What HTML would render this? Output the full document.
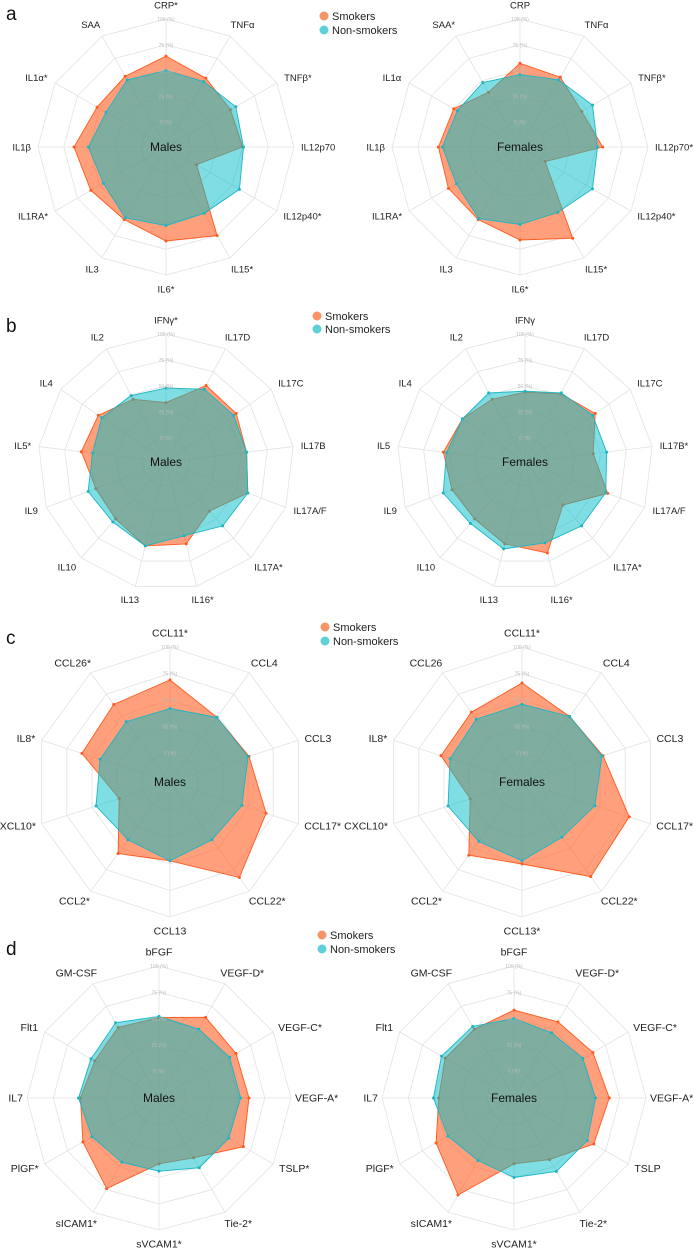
<!DOCTYPE html>
<html><head><meta charset="utf-8"><style>
html,body{margin:0;padding:0;background:#fff}
svg{display:block;font-family:"Liberation Sans",sans-serif}
</style></head><body>
<svg id="fig" width="694" height="1249" viewBox="0 0 694 1249" xmlns="http://www.w3.org/2000/svg">
<text x="6" y="20" font-size="19" fill="#111">a</text>
<text x="6" y="332" font-size="19" fill="#111">b</text>
<text x="6" y="644" font-size="19" fill="#111">c</text>
<text x="6" y="955" font-size="19" fill="#111">d</text>
<g>
<circle cx="324" cy="16" r="4.5" fill="#f79467"/><text x="332" y="20" font-size="11" fill="#222">Smokers</text>
<circle cx="324" cy="30" r="4.5" fill="#5fd0d8"/><text x="332" y="34" font-size="11" fill="#222">Non-smokers</text></g>
<g>
<circle cx="317" cy="316" r="4.5" fill="#f79467"/><text x="325" y="320" font-size="11" fill="#222">Smokers</text>
<circle cx="317" cy="329" r="4.5" fill="#5fd0d8"/><text x="325" y="333" font-size="11" fill="#222">Non-smokers</text></g>
<g>
<circle cx="325" cy="627" r="4.5" fill="#f79467"/><text x="333" y="631" font-size="11" fill="#222">Smokers</text>
<circle cx="325" cy="641" r="4.5" fill="#5fd0d8"/><text x="333" y="645" font-size="11" fill="#222">Non-smokers</text></g>
<g>
<circle cx="322" cy="935" r="4.5" fill="#f79467"/><text x="330" y="939" font-size="11" fill="#222">Smokers</text>
<circle cx="322" cy="949" r="4.5" fill="#5fd0d8"/><text x="330" y="953" font-size="11" fill="#222">Non-smokers</text></g>
</svg>
<script>
const ringTicks = [0, 25, 50, 75, 100];
const ringTickLabels = ["0 (%)", "25 (%)", "50 (%)", "75 (%)", "100 (%)"];

const aMaleLabels = ["CRP*","TNFα","TNFβ*","IL12p70","IL12p40*","IL15*","IL6*","IL3","IL1RA*","IL1β","IL1α*","SAA"];
const aMaleSmokers = [64,53,48,50,10,75,67,57,60,65,53,55];
const aMaleNonSmokers = [50,49,54,51,58,50,52,55,46,51,43,51];
const aFemaleLabels = ["CRP","TNFα","TNFβ*","IL12p70*","IL12p40*","IL15*","IL6*","IL3","IL1RA*","IL1β","IL1α","SAA*"];
const aFemaleSmokers = [57,54,45,56,4,78,66,57,56,55,50,37];
const aFemaleNonSmokers = [46,51,57,51,57,49,51,56,47,51,46,48];

const bMaleLabels = ["IFNγ*","IL17D","IL17C","IL17B","IL17A/F","IL17A*","IL16*","IL13","IL10","IL9","IL5*","IL4","IL2"];
const bMaleSmokers = [34,60,59,55,61,40,58,60,50,49,59,56,45];
const bMaleNonSmokers = [48,56,56,55,61,59,50,60,54,57,48,52,49];
const bFemaleLabels = ["IFNγ","IL17D","IL17C","IL17B*","IL17A/F","IL17A*","IL16*","IL13","IL10","IL9","IL5","IL4","IL2"];
const bFemaleSmokers = [44,51,59,43,62,32,67,58,50,52,56,50,45];
const bFemaleNonSmokers = [45,52,56,56,60,59,57,63,56,61,53,50,52];

const cMaleLabels = ["CCL11*","CCL4","CCL3","CCL17*","CCL22*","CCL13","CCL2*","CXCL10*","IL8*","CCL26*"];
const cMaleSmokers = [69,48,51,68,84,47,56,23,60,63];
const cMaleNonSmokers = [42,48,50,44,40,47,40,46,42,43];
const cFemaleLabels = ["CCL11*","CCL4","CCL3","CCL17*","CCL22*","CCL13*","CCL2*","CXCL10*","IL8*","CCL26"];
const cFemaleSmokers = [66,49,53,79,83,50,58,24,53,54];
const cFemaleNonSmokers = [46,49,52,45,37,47,42,46,44,46];

const dMaleLabels = ["bFGF","VEGF-D*","VEGF-C*","VEGF-A*","TSLP*","Tie-2*","sVCAM1*","sICAM1*","PlGF*","IL7","Flt1","GM-CSF"];
const dMaleSmokers = [51,63,59,60,67,40,37,74,58,49,45,52];
const dMaleNonSmokers = [52,50,52,52,51,51,44,45,48,51,49,57];
const dFemaleLabels = ["bFGF","VEGF-D*","VEGF-C*","VEGF-A*","TSLP","Tie-2*","sVCAM1*","sICAM1*","PlGF*","IL7","Flt1","GM-CSF"];
const dFemaleSmokers = [58,58,61,65,62,42,37,81,60,46,50,50];
const dFemaleNonSmokers = [50,46,50,52,55,55,50,43,47,51,54,53];

const NS = "http://www.w3.org/2000/svg";
const svg = document.getElementById('fig');
function mk(tag, attrs, parent) {
  const e = document.createElementNS(NS, tag);
  for (const k in attrs) e.setAttribute(k, attrs[k]);
  (parent || svg).appendChild(e);
  return e;
}
function radar(id, cx, cy, R, r0, labels, smk, non, title, fs, side) {
  const n = labels.length;
  const g = mk('g', {});
  
  
  const rad = v => r0 + (R - r0) * v / 100;
  const ang = i => 2 * Math.PI * i / n;
  const px = (i, r) => cx + r * Math.sin(ang(i));
  const py = (i, r) => cy - r * Math.cos(ang(i));
  ringTicks.forEach(t => {
    const r = rad(t);
    const pts = labels.map((_, i) => px(i, r).toFixed(1) + ',' + py(i, r).toFixed(1)).join(' ');
    const ring = mk('polygon', {points: pts, fill: 'none', stroke: '#e2e2e2', 'stroke-width': 0.8}, g);
    
    
  });
  labels.forEach((_, i) => {
    const sp = mk('line', {x1: cx, y1: cy, x2: px(i, R), y2: py(i, R), stroke: '#e2e2e2', 'stroke-width': 0.8}, g);
    
    
  });
  [[smk, 'rgba(255,95,35,0.6)', '#ff5a1f', 'smokers'], [non, 'rgba(0,190,200,0.5)', '#1cb5c4', 'non-smokers']].forEach(([vals, fill, stroke, nm]) => {
    const pts = vals.map((v, i) => px(i, rad(v)).toFixed(1) + ',' + py(i, rad(v)).toFixed(1)).join(' ');
    const poly = mk('polygon', {points: pts, fill: fill, stroke: stroke, 'stroke-width': 0.9}, g);
    
    
    vals.forEach((v, i) => {
      const c = mk('circle', {cx: px(i, rad(v)), cy: py(i, rad(v)), r: 1.5, fill: stroke}, g);
      
      
    });
  });
  ringTicks.forEach((t, k) => {
    const tl = mk('text', {x: cx, y: cy - rad(t) + 2, 'font-size': 5, fill: '#bbb', 'text-anchor': 'middle'}, g);
    tl.textContent = ringTickLabels[k];
    
    
  });
  labels.forEach((lab, i) => {
    const c = Math.abs(Math.cos(ang(i)));
    const rl = R + side + (14 - side) * c;
    const t = mk('text', {x: px(i, rl), y: py(i, rl) + fs * 0.35, 'font-size': fs, fill: '#222', 'text-anchor': 'middle'}, g);
    t.textContent = lab;
    
    
    const w = t.getComputedTextLength();
    t.setAttribute('x', px(i, rl) + Math.sin(ang(i)) * w / 2);
  });
  const ct = mk('text', {x: cx, y: cy + 4, 'font-size': 12, fill: '#111', 'text-anchor': 'middle'}, g);
  ct.textContent = title;
  
  
}
radar('radar-a-males', 166, 147, 128, 25, aMaleLabels, aMaleSmokers, aMaleNonSmokers, 'Males', 9.5, 7);
radar('radar-a-females', 520, 147, 128, 25, aFemaleLabels, aFemaleSmokers, aFemaleNonSmokers, 'Females', 9.5, 7);
radar('radar-b-males', 166, 462, 128, 24, bMaleLabels, bMaleSmokers, bMaleNonSmokers, 'Males', 9.5, 7);
radar('radar-b-females', 525, 462, 128, 24, bFemaleLabels, bFemaleSmokers, bFemaleNonSmokers, 'Females', 9.5, 7);
radar('radar-c-males', 170, 782, 135, 29, cMaleLabels, cMaleSmokers, cMaleNonSmokers, 'Males', 10.5, 4);
radar('radar-c-females', 522, 782, 135, 29, cFemaleLabels, cFemaleSmokers, cFemaleNonSmokers, 'Females', 10.5, 4);
radar('radar-d-males', 159, 1098, 132, 27, dMaleLabels, dMaleSmokers, dMaleNonSmokers, 'Males', 10.5, 4);
radar('radar-d-females', 514, 1098, 132, 27, dFemaleLabels, dFemaleSmokers, dFemaleNonSmokers, 'Females', 10.5, 4);
</script>
</body></html>
